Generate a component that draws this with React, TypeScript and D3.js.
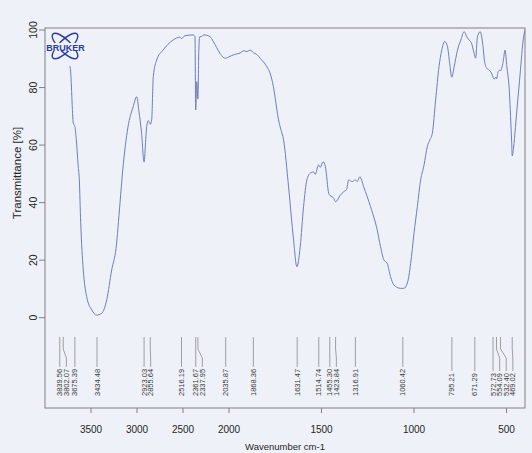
import * as d3 from "d3";

// spectrum (cm-1, %T)
const wavenumbers = [
  4000, 3960, 3900, 3860, 3840, 3820, 3802, 3780, 3750, 3725, 3692, 3675, 3660, 3640, 3627,
  3612, 3584, 3547, 3492, 3438, 3384, 3329, 3275, 3228, 3185, 3155, 3098, 3043, 3003, 2980,
  2950, 2923, 2905, 2895, 2877, 2855, 2840, 2823, 2786, 2717, 2609, 2533, 2516, 2480, 2388,
  2370, 2362, 2350, 2338, 2328, 2318, 2297, 2279, 2207, 2171, 2098, 2062, 2036, 2000, 1970,
  1940, 1920, 1904, 1885, 1868, 1850, 1832, 1795, 1778, 1760, 1741, 1733, 1720, 1705, 1678,
  1651, 1633, 1615, 1597, 1579, 1561, 1543, 1534, 1516, 1506, 1492, 1479, 1461, 1455, 1443,
  1434, 1424, 1398, 1380, 1365, 1353, 1334, 1317, 1307, 1293, 1272, 1235, 1199, 1181, 1163,
  1145, 1127, 1109, 1072, 1055, 1036, 1018, 1000, 982, 964, 946, 928, 914, 901, 883,
  865, 850, 834, 819, 807, 796, 783, 765, 747, 729, 715, 702, 689, 675, 667,
  657, 642, 629, 617, 606, 594, 581, 572, 567, 557, 554, 545, 536, 532, 526,
  518, 508, 498, 485, 478, 472, 469, 462, 452, 440, 430, 420, 410, 400,
];
const transmittance = [
  92.5, 92, 91, 90.5, 89, 90, 88.5, 90, 89, 86.7, 67.6, 66.4, 62, 53, 47.9,
  33, 16.6, 7.3, 2.7, 0.9, 1.5, 6.2, 16.6, 24.1, 39.8, 51.3, 66.3, 73.2, 76.8, 72,
  64, 54.1, 62, 66.4, 68.5, 67.2, 69, 83.8, 89.6, 93, 96.5, 97.5, 97, 98, 98.3,
  97.7, 72.2, 82, 76, 93, 97.7, 97.7, 98.3, 97.7, 96, 91.9, 90.5, 90.2, 90.7, 91.5,
  92, 92.8, 92.5, 93, 92.1, 91.5, 90.2, 87.2, 85, 80.3, 72.2, 69, 65.5, 61.8, 45.5,
  27, 17.7, 24.7, 38.6, 47.9, 50.2, 50.7, 49.8, 53.1, 52.3, 54.2, 52.5, 43.2, 42.5, 42.1,
  41.5, 40.3, 42.6, 43.8, 44.5, 47.9, 47.3, 47.9, 47.3, 49, 45.5, 38.6, 30.5, 24.7, 20.1,
  18.9, 14.3, 11.4, 10.2, 10.2, 12, 18.9, 29.3, 38.6, 47.9, 53, 59.5, 61.8, 64.1, 75.7,
  87.2, 93, 96, 94.2, 88.4, 83.6, 87.2, 93, 96.5, 99.4, 97.7, 96.5, 95.4, 91.9, 90.2,
  97.7, 99.4, 95.4, 88.4, 86.7, 86.1, 85, 83.5, 82.9, 83.6, 83, 85.5, 86.1, 85.8, 86.7,
  89, 93, 87.2, 79.1, 69.9, 61, 56.2, 59, 66, 75, 82, 89.6, 96.5, 100,
];

const peakLabels = [
  3839.56, 3802.07, 3675.39, 3434.48, 2923.03, 2855.64, 2516.19, 2361.67, 2337.95, 2035.87,
  1868.36, 1631.47, 1514.74, 1455.3, 1423.84, 1316.91, 1060.42, 795.21, 671.29, 572.73,
  554.09, 532.4, 469.02,
];

const xTicks = [3500, 3000, 2500, 2000, 1500, 1000, 500];
const yTicks = [0, 20, 40, 60, 80, 100];

const FONT = "'Liberation Sans', Arial, Helvetica, sans-serif";
const BG = "#eef1f7";
const INK = "#262626";
const LINE = "#6f7fb6";
const LOGO = "#2b3c9c";

export default function App() {
  const W = 532, H = 453;
  const box = { left: 45, right: 525, top: 28, bottom: 408 };

  // spectrometer axis: scale doubles below 2000 cm-1
  const x = d3.scaleLinear().domain([4000, 2000, 400]).range([box.left, 229, box.right]);
  const y = d3.scaleLinear().domain([0, 100]).range([317.7, 30]);

  const pts: [number, number][] = wavenumbers.map((w, i) => [x(w), y(transmittance[i])]);
  const spectrum = d3.line().curve(d3.curveMonotoneX)(pts) || "";

  // peak labels: push right so rotated texts don't overlap
  const labFs = 7.5;
  const gap = 6.6;
  const textBottom = 396;
  const peaks = peakLabels
    .map(p => ({ p, tx: x(p), lx: x(p) }))
    .sort((a, b) => a.tx - b.tx);
  for (let i = 1; i < peaks.length; i++) {
    peaks[i].lx = Math.max(peaks[i].tx, peaks[i - 1].lx + gap);
  }
  const textLen = (s: string) =>
    s.split("").reduce((acc, c) => acc + (c === "." ? 0.278 : 0.556) * labFs, 0);

  return (
    <svg width={W} height={H} style={{ position: "absolute", left: 0, top: 0, display: "block" }}>
      <rect width={W} height={H} fill={BG} />
      <defs>
        <clipPath id="plot">
          <rect x={box.left} y={box.top} width={box.right - box.left} height={box.bottom - box.top} />
        </clipPath>
      </defs>

      <path d={spectrum} fill="none" stroke={LINE} strokeWidth={1} clipPath="url(#plot)" />

      {/* logo, drawn over the hidden start of the trace */}
      <g>
        <rect x={46} y={29} width={40} height={37} fill={BG} />
        <ellipse cx={65} cy={46} rx={17} ry={6} fill="none" stroke={LOGO} strokeWidth={1.4}
          transform="rotate(45 65 46)" />
        <ellipse cx={65} cy={46} rx={17} ry={6} fill="none" stroke={LOGO} strokeWidth={1.4}
          transform="rotate(-45 65 46)" />
        <rect x={46} y={43} width={39} height={8} fill={BG} />
        <text x={65.5} y={50.5} textAnchor="middle" fontFamily={FONT} fontWeight="bold"
          fontSize={9} fill={LOGO}>BRUKER</text>
      </g>

      {/* peak picks */}
      {peaks.map(({ p, tx, lx }) => {
        const s = p.toFixed(2);
        const top = textBottom - textLen(s) - 2;
        const d = Math.abs(lx - tx) < 0.3
          ? `M${tx},337V${top}`
          : `M${tx},337V349L${lx},358V${top}`;
        return (
          <g key={s}>
            <path d={d} fill="none" stroke="#8a8a8a" strokeWidth={0.8} />
            <text transform={`translate(${lx},${textBottom}) rotate(-90)`} dominantBaseline="central"
              fontFamily={FONT} fontSize={labFs} fill="#3a3a3a">{s}</text>
          </g>
        );
      })}

      <rect x={box.left} y={box.top} width={box.right - box.left} height={box.bottom - box.top}
        fill="none" stroke="#808080" strokeWidth={1} />

      {/* y axis */}
      {yTicks.map(v => (
        <g key={v}>
          <line x1={box.left - 6} x2={box.left} y1={y(v)} y2={y(v)} stroke="#808080" />
          <text transform={`translate(33,${y(v)}) rotate(-90)`} textAnchor="middle"
            dominantBaseline="central" fontFamily={FONT} fontSize={10.5} fill={INK}>{v}</text>
        </g>
      ))}
      <text transform="translate(17,173) rotate(-90)" textAnchor="middle" dominantBaseline="central"
        fontFamily={FONT} fontSize={11.5} fill={INK}>Transmittance [%]</text>

      {/* x axis */}
      {xTicks.map(v => (
        <g key={v}>
          <line x1={x(v)} x2={x(v)} y1={box.bottom} y2={box.bottom + 5} stroke="#808080" />
          <text x={x(v)} y={433} textAnchor="middle" fontFamily={FONT} fontSize={10} fill={INK}>{v}</text>
        </g>
      ))}
      <text x={(box.left + box.right) / 2} y={450} textAnchor="middle" fontFamily={FONT}
        fontSize={9.5} fill={INK}>Wavenumber cm-1</text>
    </svg>
  );
}
